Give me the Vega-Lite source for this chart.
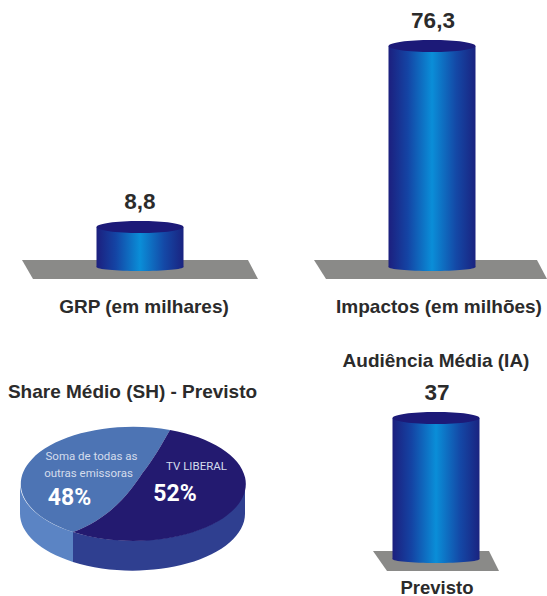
{
"$schema":"https://vega.github.io/schema/vega-lite/v6.json",
"padding":0,"background":"white","bounds":"flush","align":"none","columns":2,"spacing":{"row":116,"column":60},
"config":{"view":{"stroke":null},"font":"Liberation Sans"},
"concat":[
{"width":280,"height":274,
"data":{"values":[{"metric":"GRP (em milhares)","value":8.8,"label":"8,8"}]},
"encoding":{"x":{"field":"metric","type":"nominal","title":null,"axis":{"domain":false,"ticks":false,"labelAngle":0,"labelFont":"Liberation Sans","labelFontWeight":"bold","labelFontSize":19,"labelColor":"#2b2b2b","labelPadding":23,"labelOffset":4,"labelLimit":300}}},
"layer":[
{"mark":{"type":"point","filled":true,"opacity":1,"size":4,"fill":"#8a8a88","stroke":null,"shape":"M-118,-7 L108,-7 L118,12 L-107,12 Z"},"encoding":{"y":{"datum":0,"type":"quantitative","scale":{"domain":[-1.54,58.74],"nice":false,"zero":false},"axis":null}}},
{"mark":{"type":"bar","size":87,"fill":{"gradient":"linear","x1":0,"x2":1,"y1":0,"y2":0,"stops":[{"offset":0,"color":"#1c1f7e"},{"offset":0.22,"color":"#1444a4"},{"offset":0.5,"color":"#0a8ed8"},{"offset":0.78,"color":"#1448a6"},{"offset":1,"color":"#1a2380"}]}},"encoding":{"y":{"field":"value","type":"quantitative"}}},
{"mark":{"type":"point","filled":true,"opacity":1,"size":4,"stroke":null,"shape":"M-43.5,0 A43.5,4 0 1,1 43.5,0 A43.5,4 0 1,1 -43.5,0 Z","fill":{"gradient":"linear","x1":0,"x2":1,"y1":0,"y2":0,"stops":[{"offset":0,"color":"#1c1f7e"},{"offset":0.22,"color":"#1444a4"},{"offset":0.5,"color":"#0a8ed8"},{"offset":0.78,"color":"#1448a6"},{"offset":1,"color":"#1a2380"}]}},"encoding":{"y":{"datum":0,"type":"quantitative"}}},
{"mark":{"type":"point","filled":true,"opacity":1,"size":4,"fill":"#1c1a78","stroke":null,"shape":"M-43.5,0 A43.5,6 0 1,1 43.5,0 A43.5,6 0 1,1 -43.5,0 Z"},"encoding":{"y":{"field":"value","type":"quantitative"}}},
{"mark":{"type":"text","dy":-25,"fontSize":22.5,"fontWeight":"bold","color":"#2b2b2b","font":"Liberation Sans"},"encoding":{"y":{"field":"value","type":"quantitative"},"text":{"field":"label"}}}
]},
{"width":184,"height":274,
"data":{"values":[{"metric":"Impactos (em milhões)","value":76.3,"label":"76,3"}]},
"encoding":{"x":{"field":"metric","type":"nominal","title":null,"axis":{"domain":false,"ticks":false,"labelAngle":0,"labelFont":"Liberation Sans","labelFontWeight":"bold","labelFontSize":19,"labelColor":"#2b2b2b","labelPadding":23,"labelOffset":7,"labelLimit":300}}},
"layer":[
{"mark":{"type":"point","filled":true,"opacity":1,"size":4,"fill":"#8a8a88","stroke":null,"shape":"M-118,-7 L105,-7 L115,12 L-106,12 Z"},"encoding":{"y":{"datum":0,"type":"quantitative","scale":{"domain":[-2.42,92.18],"nice":false,"zero":false},"axis":null}}},
{"mark":{"type":"bar","size":87,"fill":{"gradient":"linear","x1":0,"x2":1,"y1":0,"y2":0,"stops":[{"offset":0,"color":"#1c1f7e"},{"offset":0.22,"color":"#1444a4"},{"offset":0.5,"color":"#0a8ed8"},{"offset":0.78,"color":"#1448a6"},{"offset":1,"color":"#1a2380"}]}},"encoding":{"y":{"field":"value","type":"quantitative"}}},
{"mark":{"type":"point","filled":true,"opacity":1,"size":4,"stroke":null,"shape":"M-43.5,0 A43.5,4 0 1,1 43.5,0 A43.5,4 0 1,1 -43.5,0 Z","fill":{"gradient":"linear","x1":0,"x2":1,"y1":0,"y2":0,"stops":[{"offset":0,"color":"#1c1f7e"},{"offset":0.22,"color":"#1444a4"},{"offset":0.5,"color":"#0a8ed8"},{"offset":0.78,"color":"#1448a6"},{"offset":1,"color":"#1a2380"}]}},"encoding":{"y":{"datum":0,"type":"quantitative"}}},
{"mark":{"type":"point","filled":true,"opacity":1,"size":4,"fill":"#1c1a78","stroke":null,"shape":"M-43.5,0 A43.5,6 0 1,1 43.5,0 A43.5,6 0 1,1 -43.5,0 Z"},"encoding":{"y":{"field":"value","type":"quantitative"}}},
{"mark":{"type":"text","dy":-25,"dx":1,"fontSize":22.5,"fontWeight":"bold","color":"#2b2b2b","font":"Liberation Sans"},"encoding":{"y":{"field":"value","type":"quantitative"},"text":{"field":"label"}}}
]},
{"width":265,"height":186,
"title":{"text":"Share Médio (SH) - Previsto","anchor":"middle","offset":-12,"fontSize":19,"fontWeight":"bold","color":"#2b2b2b","font":"Liberation Sans"},
"data":{"values":[
{"segment":"Soma de todas as outras emissoras","share":48,"shareLabel":"48%","line1":"Soma de todas as","line2":"outras emissoras"},
{"segment":"TV LIBERAL","share":52,"shareLabel":"52%","line1":"TV LIBERAL","line2":""}]},
"resolve":{"scale":{"shape":"independent","color":"independent","fill":"independent"}},
"layer":[
{"mark":{"type":"point","filled":true,"opacity":1,"size":4,"stroke":null},"encoding":{"shape":{"field":"segment","type":"nominal","legend":null,"scale":{"domain":["Soma de todas as outras emissoras","TV LIBERAL"],"range":["M-112.5,0 A112.5,57 0 0,0 -59.5,49 L-59.5,79 A112.5,57 0 0,1 -112.5,30 Z","M-59.5,49 A112.5,57 0 0,0 112.5,0 L112.5,30 A112.5,57 0 0,1 -59.5,79 Z"]}},"color":{"field":"segment","type":"nominal","legend":null,"scale":{"domain":["Soma de todas as outras emissoras","TV LIBERAL"],"range":["#5b84c4","#2f3f90"]}}}},
{"mark":{"type":"point","filled":true,"opacity":1,"size":4,"stroke":null},"encoding":{"shape":{"field":"segment","type":"nominal","legend":null,"scale":{"domain":["Soma de todas as outras emissoras","TV LIBERAL"],"range":["M37.5,-53 A112.5,57 0 0,0 -59.5,49 C-20,35 0,5 10,-10 C20,-22 30,-40 37.5,-53 Z","M37.5,-53 A112.5,57 0 1,1 -59.5,49 C-20,35 0,5 10,-10 C20,-22 30,-40 37.5,-53 Z"]}},"color":{"field":"segment","type":"nominal","legend":null,"scale":{"domain":["Soma de todas as outras emissoras","TV LIBERAL"],"range":["#4d74b4","#231a70"]}}}},
{"transform":[{"filter":"datum.share==52"}],"mark":{"type":"text","dx":64,"dy":-16,"fontSize":11.5,"color":"#d4dcec","font":"Roboto"},"encoding":{"text":{"field":"line1"}}},
{"transform":[{"filter":"datum.share==52"}],"mark":{"type":"text","dx":42.5,"dy":11,"fontSize":23,"fontWeight":"bold","color":"#ffffff","font":"Roboto"},"encoding":{"text":{"field":"shareLabel"}}},
{"transform":[{"filter":"datum.share==48"}],"mark":{"type":"text","dx":-41,"dy":-26,"fontSize":11.5,"color":"#d4dcec","font":"Roboto"},"encoding":{"text":{"field":"line1"}}},
{"transform":[{"filter":"datum.share==48"}],"mark":{"type":"text","dx":-44,"dy":-9,"fontSize":11.5,"color":"#d4dcec","font":"Roboto"},"encoding":{"text":{"field":"line2"}}},
{"transform":[{"filter":"datum.share==48"}],"mark":{"type":"text","dx":-63,"dy":15,"fontSize":23,"fontWeight":"bold","color":"#ffffff","font":"Roboto"},"encoding":{"text":{"field":"shareLabel"}}}
]},
{"width":192,"height":176,
"title":{"text":"Audiência Média (IA)","anchor":"middle","offset":11,"fontSize":19,"fontWeight":"bold","color":"#2b2b2b","font":"Liberation Sans"},
"data":{"values":[{"metric":"Previsto","value":37,"label":"37"}]},
"encoding":{"x":{"field":"metric","type":"nominal","title":null,"axis":{"domain":false,"ticks":false,"labelAngle":0,"labelFont":"Liberation Sans","labelFontWeight":"bold","labelFontSize":18.5,"labelColor":"#2b2b2b","labelPadding":12,"labelOffset":1,"labelLimit":300}}},
"layer":[
{"mark":{"type":"point","filled":true,"opacity":1,"size":4,"fill":"#8a8a88","stroke":null,"shape":"M-63,-8 L53,-8 L63,12 L-49,12 Z"},"encoding":{"y":{"datum":0,"type":"quantitative","scale":{"domain":[-1.84,44.35],"nice":false,"zero":false},"axis":null}}},
{"mark":{"type":"bar","size":87,"fill":{"gradient":"linear","x1":0,"x2":1,"y1":0,"y2":0,"stops":[{"offset":0,"color":"#1c1f7e"},{"offset":0.22,"color":"#1444a4"},{"offset":0.5,"color":"#0a8ed8"},{"offset":0.78,"color":"#1448a6"},{"offset":1,"color":"#1a2380"}]}},"encoding":{"y":{"field":"value","type":"quantitative"}}},
{"mark":{"type":"point","filled":true,"opacity":1,"size":4,"stroke":null,"shape":"M-43.5,0 A43.5,4 0 1,1 43.5,0 A43.5,4 0 1,1 -43.5,0 Z","fill":{"gradient":"linear","x1":0,"x2":1,"y1":0,"y2":0,"stops":[{"offset":0,"color":"#1c1f7e"},{"offset":0.22,"color":"#1444a4"},{"offset":0.5,"color":"#0a8ed8"},{"offset":0.78,"color":"#1448a6"},{"offset":1,"color":"#1a2380"}]}},"encoding":{"y":{"datum":0,"type":"quantitative"}}},
{"mark":{"type":"point","filled":true,"opacity":1,"size":4,"fill":"#1c1a78","stroke":null,"shape":"M-43.5,0 A43.5,6 0 1,1 43.5,0 A43.5,6 0 1,1 -43.5,0 Z"},"encoding":{"y":{"field":"value","type":"quantitative"}}},
{"mark":{"type":"text","dy":-25,"dx":1,"fontSize":22.5,"fontWeight":"bold","color":"#2b2b2b","font":"Liberation Sans"},"encoding":{"y":{"field":"value","type":"quantitative"},"text":{"field":"label"}}}
]}
]}
